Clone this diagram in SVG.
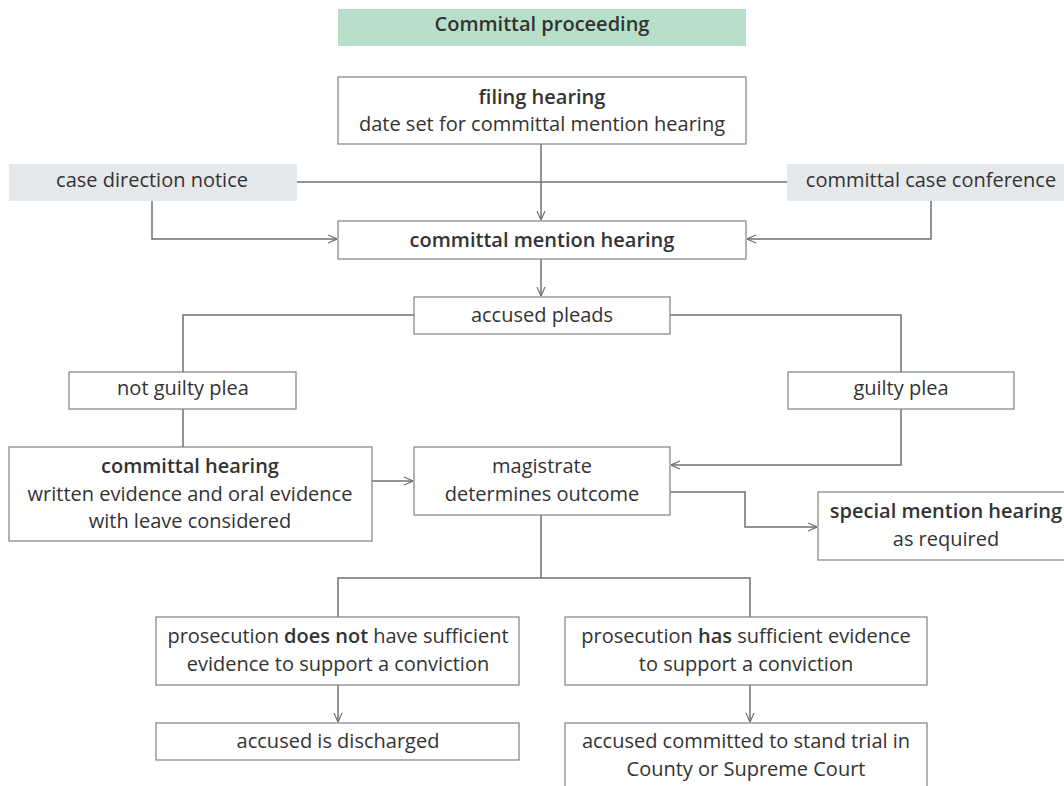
<svg xmlns="http://www.w3.org/2000/svg" width="1064" height="786" viewBox="0 0 1064 786">
<defs>
<marker id="arr" viewBox="0 0 10 10" refX="10" refY="5" markerWidth="10" markerHeight="10" markerUnits="userSpaceOnUse" orient="auto">
<path d="M1,1 L10,5 L1,9" fill="none" stroke="#707070" stroke-width="1.2"/>
</marker>
<style>
text{font-family:"Open Sans","Liberation Sans",sans-serif;font-size:20px;fill:#333;text-anchor:middle}
.b{font-weight:600}
.box{fill:#fff;stroke:#8a8a8a;stroke-width:1.3}
.grey{fill:#e6e9ec}
.green{fill:#b8dfc9}
.c{fill:none;stroke:#707070;stroke-width:1.5}
</style>
</defs>
<g id="connectors">
<line class="c" x1="297" y1="182" x2="787" y2="182"/>
<path class="c" d="M541,144 V220" marker-end="url(#arr)"/>
<path class="c" d="M152,201 V239 H337" marker-end="url(#arr)"/>
<path class="c" d="M931,201 V239 H747" marker-end="url(#arr)"/>
<path class="c" d="M541,259 V296" marker-end="url(#arr)"/>
<path class="c" d="M414,315 H183 V372"/>
<path class="c" d="M670,315 H901 V372"/>
<path class="c" d="M183,409 V447"/>
<path class="c" d="M372,481 H413" marker-end="url(#arr)"/>
<path class="c" d="M901,409 V465 H671" marker-end="url(#arr)"/>
<path class="c" d="M670,492 H745 V527 H817" marker-end="url(#arr)"/>
<path class="c" d="M541,515 V578 M338,617 V578 H750 V617"/>
<path class="c" d="M338,685 V722" marker-end="url(#arr)"/>
<path class="c" d="M750,685 V722" marker-end="url(#arr)"/>
</g>
<g id="title"><rect class="green" x="338" y="9" width="408" height="37"/><text class="b" x="542" y="31">Committal proceeding</text></g>
<g id="filing"><rect class="box" x="338" y="77" width="408" height="67"/><text class="b" x="542" y="104">filing hearing</text><text x="542" y="131">date set for committal mention hearing</text></g>
<g id="cdn"><rect class="grey" x="9" y="164" width="288" height="37"/><text x="152" y="187">case direction notice</text></g>
<g id="ccc"><rect class="grey" x="787" y="164" width="277" height="37"/><text x="931" y="187">committal case conference</text></g>
<g id="cmh"><rect class="box" x="338" y="221" width="408" height="38"/><text class="b" x="542" y="247">committal mention hearing</text></g>
<g id="pleads"><rect class="box" x="414" y="297" width="256" height="37"/><text x="542" y="322">accused pleads</text></g>
<g id="ngp"><rect class="box" x="69" y="372" width="227" height="37"/><text x="183" y="395">not guilty plea</text></g>
<g id="gp"><rect class="box" x="788" y="372" width="226" height="37"/><text x="901" y="395">guilty plea</text></g>
<g id="ch"><rect class="box" x="9" y="447" width="363" height="94"/><text class="b" x="190" y="473">committal hearing</text><text x="190" y="501">written evidence and oral evidence</text><text x="190" y="528">with leave considered</text></g>
<g id="mag"><rect class="box" x="414" y="447" width="256" height="68"/><text x="542" y="473">magistrate</text><text x="542" y="501">determines outcome</text></g>
<g id="smh"><rect class="box" x="818" y="492" width="250" height="68"/><text class="b" x="946" y="518">special mention hearing</text><text x="946" y="546">as required</text></g>
<g id="pdn"><rect class="box" x="156" y="617" width="363" height="68"/><text x="338" y="643">prosecution <tspan class="b">does not</tspan> have sufficient</text><text x="338" y="671">evidence to support a conviction</text></g>
<g id="phs"><rect class="box" x="565" y="617" width="362" height="68"/><text x="746" y="643">prosecution <tspan class="b">has</tspan> sufficient evidence</text><text x="746" y="671">to support a conviction</text></g>
<g id="disc"><rect class="box" x="156" y="723" width="363" height="37"/><text x="338" y="748">accused is discharged</text></g>
<g id="comm"><rect class="box" x="565" y="723" width="362" height="70"/><text x="746" y="748">accused committed to stand trial in</text><text x="746" y="776">County or Supreme Court</text></g>
</svg>
